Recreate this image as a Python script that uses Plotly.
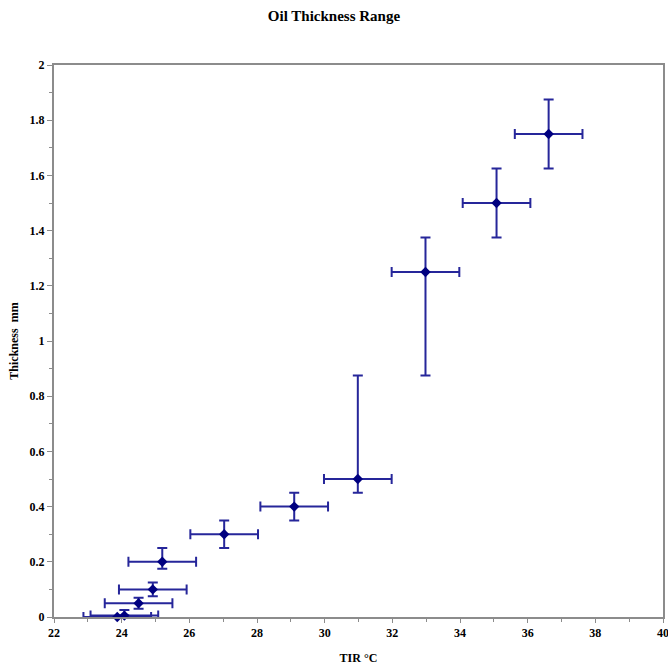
import plotly.graph_objects as go

tir = [23.87, 24.08, 24.5, 24.92, 25.2, 27.03, 29.1, 30.98, 32.98, 35.08, 36.62]
thickness = [0.0, 0.005, 0.05, 0.1, 0.2, 0.3, 0.4, 0.5, 1.25, 1.5, 1.75]
err_up = [0.0, 0.02, 0.02, 0.025, 0.05, 0.05, 0.05, 0.375, 0.125, 0.125, 0.125]
err_down = [0.0, 0.0, 0.02, 0.025, 0.025, 0.05, 0.05, 0.05, 0.375, 0.125, 0.125]
err_x = [1.0] * len(tir)

fig = go.Figure()
fig.add_trace(go.Scatter(
    x=tir, y=thickness, mode="markers",
    marker=dict(symbol="diamond", size=8, color="#000080"),
    error_y=dict(type="data", array=err_up, arrayminus=err_down, symmetric=False,
                 color="#26269a", thickness=2, width=5),
    error_x=dict(type="data", array=err_x, color="#26269a", thickness=2, width=5),
    showlegend=False,
))

serif = "Liberation Serif, Times New Roman, serif"
fig.update_layout(
    width=668, height=666,
    margin=dict(l=54, r=5, t=65, b=49, autoexpand=False),
    paper_bgcolor="white", plot_bgcolor="white",
    title=dict(text="<b>Oil Thickness Range</b>", x=0.5, xanchor="center", y=0.977, yanchor="middle",
               font=dict(family=serif, size=15, color="#000")),
    font=dict(family=serif, size=12, color="#000"),
    xaxis=dict(range=[22, 40], dtick=2, tick0=22, showgrid=False, zeroline=False,
               automargin=False, ticklabeloverflow="allow",
               showline=True, linecolor="#8c8c8c", linewidth=2, mirror=True,
               ticks="outside", ticklen=4, tickcolor="#8c8c8c",
               minor=dict(dtick=1, ticks="outside", ticklen=3, tickcolor="#8c8c8c"),
               tickfont=dict(family=serif, size=12, color="#000"),
               tickprefix="<b>", ticksuffix="</b>",
               title=dict(text="<b>TIR °C</b>", standoff=14,
                          font=dict(family=serif, size=12, color="#000"))),
    yaxis=dict(range=[0, 2], dtick=0.2, tick0=0, showgrid=False, zeroline=False,
               automargin=False, ticklabeloverflow="allow",
               showline=True, linecolor="#8c8c8c", linewidth=2, mirror=True,
               ticks="outside", ticklen=5, tickcolor="#8c8c8c",
               minor=dict(dtick=0.1, ticks="outside", ticklen=3, tickcolor="#8c8c8c"),
               tickfont=dict(family=serif, size=12, color="#000"),
               tickprefix="<b>", ticksuffix="</b>",
               title=dict(text="<b>Thickness  mm</b>", standoff=8,
                          font=dict(family=serif, size=12, color="#000"))),
)
fig.update_traces(cliponaxis=False)
fig.write_html("out.html", config={"displayModeBar": False},
               post_script="document.body.style.margin='0';document.body.style.overflow='hidden';")
